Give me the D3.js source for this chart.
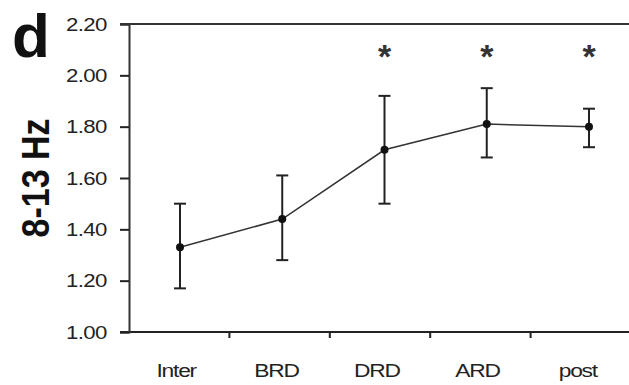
<!DOCTYPE html>
<html>
<head>
<meta charset="utf-8">
<script src="https://cdn.jsdelivr.net/npm/d3@7"></script>
<style>
  body { margin: 0; background: #fff; }
  text { font-family: "Liberation Sans", Arial, sans-serif; }
</style>
</head>
<body>
<script>
// values (band power, 8-13 Hz)
var categories = ["Inter", "BRD", "DRD", "ARD", "post"];
var means = [1.33, 1.44, 1.71, 1.81, 1.80];
var upper = [1.50, 1.61, 1.92, 1.95, 1.87];
var lower = [1.17, 1.28, 1.50, 1.68, 1.72];
var significant = [false, false, true, true, true];
var yTicks = [1.00, 1.20, 1.40, 1.60, 1.80, 2.00, 2.20];

var width = 629, height = 385;
var margin = {top: 24, right: 0, bottom: 53, left: 129};

var data = categories.map((c, i) => ({cat: c, m: means[i], hi: upper[i], lo: lower[i], sig: significant[i]}));

const svg = d3.select("body")
    .append("svg")
    .attr("width", width)
    .attr("height", height);

// axis bands (ticks + labels)
var xscale = d3.scaleBand()
    .domain(categories)
    .range([margin.left, 631]);

// marker positions sit slightly wider than the axis bands in the figure
var xpt = d3.scalePoint()
    .domain(categories)
    .range([180, 589]);

var yscale = d3.scaleLinear()
    .domain([1.0, 2.2])
    .range([height - margin.bottom, margin.top]);

// x-axis
var xAxis = svg.append("g")
    .attr("transform", `translate(0,${height - margin.bottom})`);
xAxis.append("line")
    .attr("x1", 120).attr("x2", width)
    .attr("stroke", "#222").attr("stroke-width", 2);
xAxis.selectAll(".xt")
    .data(categories.slice(1))
    .join("line")
    .attr("x1", d => xscale(d)).attr("x2", d => xscale(d))
    .attr("y1", 0).attr("y2", 6)
    .attr("stroke", "#222").attr("stroke-width", 2);
xAxis.selectAll(".xl")
    .data(categories)
    .join("text")
    .attr("transform", d => `translate(${xscale(d) + xscale.bandwidth() / 2 - 3},45) scale(1.2,1)`)
    .attr("text-anchor", "middle")
    .attr("font-size", 19)
    .attr("letter-spacing", -1)
    .attr("fill", "#222")
    .text(d => d);

// y-axis
var yAxis = svg.append("g")
    .attr("transform", `translate(${margin.left},0)`)
    .call(d3.axisLeft(yscale).tickValues(yTicks).tickFormat(d3.format(".2f")).tickSize(9).tickPadding(10))
    .call(g => g.select(".domain").attr("stroke", "#333").attr("stroke-width", 2))
    .call(g => g.selectAll(".tick line").attr("stroke", "#222").attr("stroke-width", 2))
    .call(g => g.selectAll(".tick text")
        .attr("transform", "scale(1.17,1)")
        .attr("font-size", 19)
        .attr("fill", "#222")
        .attr("font-family", "Liberation Sans, Arial, sans-serif")
        .attr("letter-spacing", -0.5));

// top frame line
svg.append("line")
    .attr("x1", 120).attr("x2", width)
    .attr("y1", yscale(2.2)).attr("y2", yscale(2.2))
    .attr("stroke", "#333").attr("stroke-width", 2);

var cx = d => xpt(d.cat);

// error bars
var eb = svg.append("g").attr("stroke", "#222").attr("stroke-width", 2);
eb.selectAll(".v").data(data).join("line")
    .attr("x1", cx).attr("x2", cx)
    .attr("y1", d => yscale(d.hi)).attr("y2", d => yscale(d.lo));
eb.selectAll(".t").data(data).join("line")
    .attr("x1", d => cx(d) - 6).attr("x2", d => cx(d) + 6)
    .attr("y1", d => yscale(d.hi)).attr("y2", d => yscale(d.hi));
eb.selectAll(".b").data(data).join("line")
    .attr("x1", d => cx(d) - 6).attr("x2", d => cx(d) + 6)
    .attr("y1", d => yscale(d.lo)).attr("y2", d => yscale(d.lo));

var line = d3.line()
    .x(cx)
    .y(d => yscale(d.m));

svg.append("path")
    .datum(data)
    .attr("fill", "none")
    .attr("stroke", "#333")
    .attr("stroke-width", 1.5)
    .attr("d", line);

svg.selectAll(".pt").data(data).join("circle")
    .attr("cx", cx)
    .attr("cy", d => yscale(d.m))
    .attr("r", 4)
    .attr("fill", "#111");

// significance markers
svg.selectAll(".sig").data(data.filter(d => d.sig)).join("text")
    .attr("x", cx)
    .attr("y", 68)
    .attr("text-anchor", "middle")
    .attr("font-size", 34)
    .attr("font-weight", "bold")
    .attr("fill", "#333")
    .text("*");

// axis title
svg.append("text")
    .attr("transform", "translate(49,178) rotate(-90) scale(1,1.12)")
    .attr("text-anchor", "middle")
    .attr("font-size", 34)
    .attr("font-weight", "bold")
    .attr("fill", "#111")
    .text("8-13 Hz");

// panel letter
svg.append("text")
    .attr("x", 12)
    .attr("y", 57)
    .attr("font-size", 62)
    .attr("font-weight", "bold")
    .attr("fill", "#111")
    .text("d");
</script>
</body>
</html>
